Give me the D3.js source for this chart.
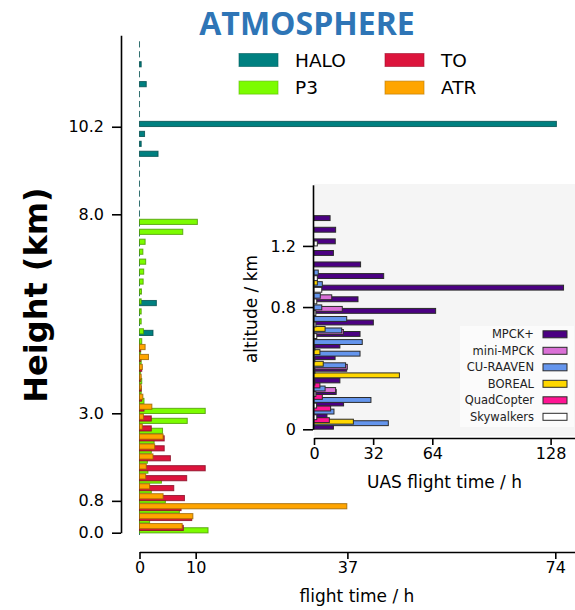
<!DOCTYPE html>
<html>
<head>
<meta charset="utf-8">
<script src="https://cdn.jsdelivr.net/npm/d3@7/dist/d3.min.js"></script>
<style>
  body { margin: 0; background: #fff; }
  text { font-family: "DejaVu Sans", sans-serif; }
</style>
</head>
<body>
<div id="chart"></div>
<script>
// aircraft histogram: altitude bins (km, lower edge) and flight time (h)
var acAlt = [0, 0.25, 0.5, 0.75, 1, 1.25, 1.5, 1.75, 2, 2.25, 2.5, 2.75, 3, 3.25, 3.5, 3.75,
  4, 4.25, 4.5, 4.75, 5, 5.25, 5.5, 5.75, 6, 6.25, 6.5, 6.75, 7, 7.25, 7.5, 7.75,
  8, 8.25, 8.5, 8.75, 9, 9.25, 9.5, 9.75, 10, 10.25, 10.5, 10.75, 11, 11.25, 11.5, 11.75, 12, 12.25];

var halo = [0, 0, 0, 0, 0, 0, 0, 0, 0, 0, 0, 0, 0, 0, 0, 0, 0, 0, 0, 0,
  2.4, 0, 0, 3.0, 0, 0, 0, 0, 0, 0, 0, 0, 0, 0, 0, 0, 0, 0,
  3.3, 0.3, 0.9, 74.2, 0, 0, 0, 1.2, 0, 0.3, 0, 0];
var p3 = [12.2, 1.8, 7.1, 4.6, 2.1, 3.9, 1.5, 1.4, 2.1, 2.6, 4.1, 8.5, 11.7, 0.8, 0.3, 0.4,
  0.2, 0.3, 0.2, 0.4, 0.7, 0.3, 0.3, 0.3, 0.35, 0.65, 0.75, 1.1, 0.6, 1.0, 7.7, 10.3];
var to = [7.8, 9.3, 7.4, 8.0, 6.1, 8.4, 11.7, 5.5, 4.4, 4.4, 2.1, 2.1, 0.8, 0.4, 0.3, 0.2, 0.4, 0.2, 0.2];
var atr = [7.6, 9.5, 36.9, 4.2, 1.8, 1.1, 1.2, 2.4, 2.7, 4.2, 0.5, 0.7, 2.2, 0.6, 0.3, 0.3, 0.5, 1.6, 1.0];

var acTicksX = [0, 10, 37, 74];
var acTicksY = [0, 0.8, 3.0, 8.0, 10.2];

// UAS inset: altitude bins (km) and flight time (h)
var uasAlt = [0.017, 0.093, 0.169, 0.244, 0.320, 0.396, 0.472, 0.548, 0.624, 0.699,
  0.775, 0.851, 0.927, 1.003, 1.079, 1.154, 1.230, 1.306, 1.382];
var mpck = [10.5, 7, 16, 12, 14, 17.7, 11.4, 14, 24.9, 32.1, 65.8, 23.8, 135, 37.7, 25.2, 10.5, 11.5, 11.7, 8.7];
var miniMpck = [0, 0, 0, 11.7, 0, 18, 0, 0, 15.9, 0, 15.3, 9.6, 0, 0, 0, 0, 0, 0, 0];
var cuRaaven = [40.2, 10.8, 30.8, 6, 0, 17.1, 24.9, 26.1, 15, 17.7, 4.2, 3.4, 4.5, 2.3, 0, 0, 0, 0, 0];
var boreal = [21.3, 0, 0, 0, 46.2, 5.0, 3.2, 0, 6, 0, 0, 0, 1.8, 0, 0, 0, 0, 0, 0];
var quad = [8.3, 9.0, 4.5, 3.2, 0, 0, 0, 0, 0, 0, 0, 0, 0, 0, 0, 0, 0, 0, 0];
var sky = [1.5, 1.4, 1.0, 0.5, 0.5, 0.5, 0.5, 1.5, 1, 1, 1.5, 4.2, 1.8, 0, 0, 1.8, 0, 0, 0];

var uasTicksX = [0, 32, 64, 128];
var uasTicksY = [0, 0.8, 1.2];

var width = 575, height = 610;

var svg = d3.select("#chart").append("svg")
  .attr("width", width)
  .attr("height", height);

//series styles (bar offset inside the bin, km)
var acSeries = [
  { name: "HALO", values: halo, color: "#008080", off: 0.02 },
  { name: "P3", values: p3, color: "#7cfc00", off: 0.06 },
  { name: "TO", values: to, color: "#dc143c", off: 0.12 },
  { name: "ATR", values: atr, color: "#ffa500", off: 0.165 }
];
var uasSeries = [
  { name: "MPCK+", values: mpck, color: "#4b0082", off: 0 },
  { name: "mini-MPCK", values: miniMpck, color: "#da70d6", off: 0.013 },
  { name: "CU-RAAVEN", values: cuRaaven, color: "#6495ed", off: 0.023 },
  { name: "BOREAL", values: boreal, color: "#ffd700", off: 0.033 },
  { name: "QuadCopter", values: quad, color: "#ff1493", off: 0.043 },
  { name: "Skywalkers", values: sky, color: "#ffffff", off: 0.062 }
];

function styleAxis(g, size) {
  g.attr("font-family", "DejaVu Sans, sans-serif").attr("font-size", size);
  g.selectAll(".domain").attr("stroke", "#000").attr("stroke-width", 1.6);
  g.selectAll(".tick line").attr("stroke", "#000").attr("stroke-width", 1.6);
  g.selectAll(".tick text").attr("fill", "#000");
}

// ---------- main chart ----------
var x = d3.scaleLinear().domain([0, 77.6]).range([139.5, 575.5]);
var y = d3.scaleLinear().domain([0, 12.5]).range([532.7, 35.2]);
var barH = 0.13;

acSeries.forEach(function(s) {
  var edge = d3.color(s.color).darker(1.4);
  svg.append("g").selectAll("rect")
    .data(s.values)
    .enter()
    .append("rect")
    .attr("x", x(0))
    .attr("y", function(d, i) { return y(acAlt[i] + s.off + barH / 2); })
    .attr("width", function(d) { return Math.max(x(d) - x(0), 0.01); })
    .attr("height", y(0) - y(barH))
    .attr("fill", s.color)
    .attr("stroke", edge)
    .attr("stroke-opacity", 0.8)
    .attr("stroke-width", 1);
});

svg.append("g")
  .attr("transform", "translate(0,552)")
  .call(d3.axisBottom(x).tickValues(acTicksX).tickFormat(d3.format("d"))
    .tickSize(7).tickPadding(3).tickSizeOuter(0))
  .call(styleAxis, 16);

svg.append("g")
  .attr("transform", "translate(121,0)")
  .call(d3.axisLeft(y).tickValues(acTicksY).tickFormat(d3.format(".1f"))
    .tickSize(9).tickPadding(8).tickSizeOuter(0))
  .call(styleAxis, 16);

svg.append("text")
  .attr("x", 357)
  .attr("y", 602)
  .attr("text-anchor", "middle")
  .attr("font-size", 17)
  .text("flight time / h");

svg.append("text")
  .attr("transform", "translate(47,295)rotate(-90)")
  .attr("text-anchor", "middle")
  .attr("font-size", 32)
  .attr("font-weight", "bold")
  .text("Height (km)");

svg.append("text")
  .attr("x", 307)
  .attr("y", 35)
  .attr("text-anchor", "middle")
  .style("font-family", "'Open Sans', sans-serif")
  .attr("font-size", 32)
  .attr("font-weight", "bold")
  .attr("fill", "#2e75b6")
  .text("ATMOSPHERE");

//legend, filled column by column
var legend = svg.append("g");
acSeries.forEach(function(s, i) {
  var col = Math.floor(i / 2), row = i % 2;
  var lx = 239 + col * 146, ly = 60 + row * 27.6;
  legend.append("rect")
    .attr("x", lx).attr("y", ly - 6.5)
    .attr("width", 39).attr("height", 13)
    .attr("fill", s.color)
    .attr("stroke", d3.color(s.color).darker(0.9))
    .attr("stroke-opacity", 0.6);
  legend.append("text")
    .attr("x", lx + 56).attr("y", ly + 6.5)
    .attr("font-size", 18.5)
    .text(s.name);
});

// ---------- UAS inset ----------
var ux = d3.scaleLinear().domain([0, 141.2]).range([314, 575]);
var uy = d3.scaleLinear().domain([0, 1.6]).range([429.3, 184.8]);
var uBarH = 0.032;

svg.append("rect")
  .attr("x", 314).attr("y", 184)
  .attr("width", 575 - 314).attr("height", 436 - 184)
  .attr("fill", "#f5f5f5");

uasSeries.forEach(function(s) {
  var rows = s.values
    .map(function(v, i) { return { v: v, alt: uasAlt[i] }; })
    .filter(function(d) { return d.v > 0; });
  svg.append("g").selectAll("rect")
    .data(rows)
    .enter()
    .append("rect")
    .attr("x", ux(0))
    .attr("y", function(d) { return uy(d.alt + s.off + uBarH / 2); })
    .attr("width", function(d) { return ux(d.v) - ux(0); })
    .attr("height", uy(0) - uy(uBarH))
    .attr("fill", s.color)
    .attr("stroke", "#2b2b2b")
    .attr("stroke-width", 1);
});

svg.append("g")
  .attr("transform", "translate(0,438)")
  .call(d3.axisBottom(ux).tickValues(uasTicksX).tickFormat(d3.format("d"))
    .tickSize(7).tickPadding(3).tickSizeOuter(0))
  .call(styleAxis, 16);

svg.append("g")
  .attr("transform", "translate(313,0)")
  .call(d3.axisLeft(uy).tickValues(uasTicksY)
    .tickFormat(function(d) { return d === 0 ? "0" : d.toFixed(1); })
    .tickSize(10).tickPadding(7).tickSizeOuter(0))
  .call(styleAxis, 16);

svg.append("text")
  .attr("x", 444.5)
  .attr("y", 488)
  .attr("text-anchor", "middle")
  .attr("font-size", 17)
  .text("UAS flight time / h");

svg.append("text")
  .attr("transform", "translate(257,309)rotate(-90)")
  .attr("text-anchor", "middle")
  .attr("font-size", 17)
  .text("altitude / km");

var uLegend = svg.append("g");
uLegend.append("rect")
  .attr("x", 460).attr("y", 326)
  .attr("width", 114).attr("height", 101)
  .attr("fill", "#fbfbfb");
uasSeries.forEach(function(s, i) {
  var ly = 334.3 + i * 16.5;
  uLegend.append("rect")
    .attr("x", 543).attr("y", ly - 3.5)
    .attr("width", 24).attr("height", 7)
    .attr("fill", s.color)
    .attr("stroke", "#2b2b2b");
  uLegend.append("text")
    .attr("x", 534).attr("y", ly + 4.1)
    .attr("text-anchor", "end")
    .attr("font-size", 11.5)
    .attr("fill", "#222")
    .text(s.name);
});
</script>
</body>
</html>
